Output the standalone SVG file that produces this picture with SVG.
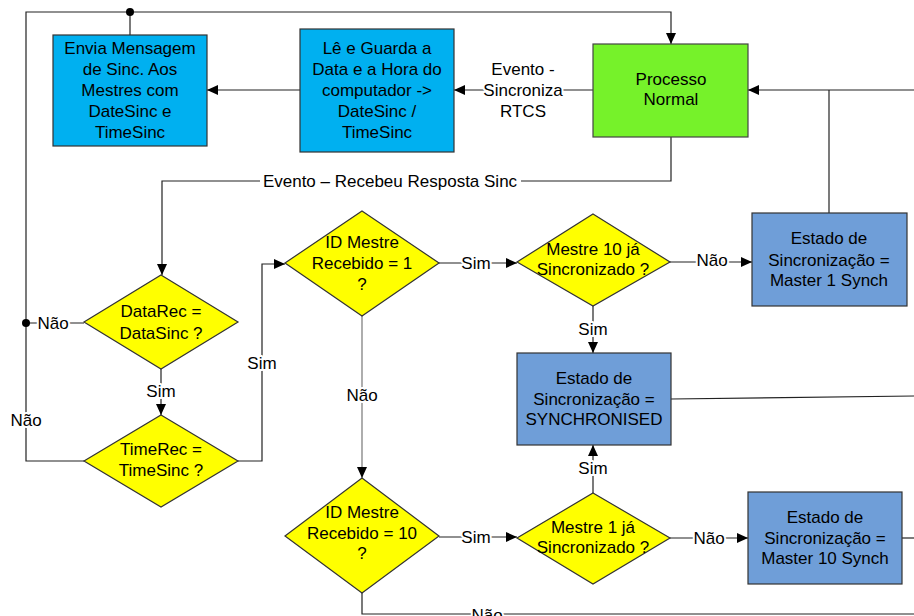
<svg xmlns="http://www.w3.org/2000/svg" width="914" height="616" viewBox="0 0 914 616">
  <defs>
    <style>
      text { font-family: "Liberation Sans", Arial, sans-serif; font-size: 17px; fill: #000; text-anchor: middle; }
      .lbl { stroke: #fff; stroke-width: 4px; paint-order: stroke; stroke-linejoin: round; }
      .line { fill: none; stroke: #222; stroke-width: 1.2; }
      .grey { stroke: #777; }
      .cyan { fill: #00B0F0; stroke: #333; stroke-width: 1.2; }
      .green { fill: #76F22A; stroke: #444; stroke-width: 1.2; }
      .steel { fill: #6F9ED8; stroke: #333; stroke-width: 1.2; }
      .dec { fill: #FFFF00; stroke: #333; stroke-width: 1.2; }
    </style>
    <marker id="arrow" markerUnits="userSpaceOnUse" markerWidth="12" markerHeight="12" refX="11" refY="5" orient="auto">
      <path d="M0,0 L11,5 L0,10 z" fill="#000"/>
    </marker>
  </defs>

  <rect width="914" height="616" fill="#fff"/>

  <!-- connectors -->
  <g id="connectors">
    <path class="line" d="M84,461 H26 V12 H671 V44" marker-end="url(#arrow)"/>
    <path class="line" d="M130,12 V35"/>
    <path class="line" d="M84,323 H26"/>
    <path class="line" d="M593,90 H454" marker-end="url(#arrow)"/>
    <path class="line" d="M300,90 H207" marker-end="url(#arrow)"/>
    <path class="line" d="M914,90 H748" marker-end="url(#arrow)"/>
    <path class="line" d="M829,213 V90"/>
    <path class="line" d="M671,137 V181 H162 V275" marker-end="url(#arrow)"/>
    <path class="line" d="M161,369 V415" marker-end="url(#arrow)"/>
    <path class="line" d="M238,461 H262 V264 H285" marker-end="url(#arrow)"/>
    <path class="line" d="M439,263 H517" marker-end="url(#arrow)"/>
    <path class="line" d="M670,262 H752" marker-end="url(#arrow)"/>
    <path class="line" d="M593,306 V353" marker-end="url(#arrow)"/>
    <path class="line grey" d="M362,316 V478" marker-end="url(#arrow)"/>
    <path class="line" d="M439,537 H517" marker-end="url(#arrow)"/>
    <path class="line" d="M593,493 V445" marker-end="url(#arrow)"/>
    <path class="line" d="M670,538 H748" marker-end="url(#arrow)"/>
    <path class="line" d="M902,538 H914"/>
    <path class="line" d="M671,399 L914,396"/>
    <path class="line" d="M362,593 V614 H914"/>
    <circle cx="130" cy="12" r="4" fill="#000"/>
    <circle cx="26" cy="323" r="4" fill="#000"/>

    <!-- connector labels -->
    <text class="lbl" x="523" y="75">Evento -</text>
    <text class="lbl" x="523" y="96">Sincroniza</text>
    <text class="lbl" x="523" y="117">RTCS</text>
    <rect x="260" y="174" width="261" height="16" fill="#fff"/>
    <text class="lbl" x="390" y="187">Evento – Recebeu Resposta Sinc</text>
    <text class="lbl" x="53" y="329">Não</text>
    <text class="lbl" x="161" y="397">Sim</text>
    <text class="lbl" x="26" y="426">Não</text>
    <text class="lbl" x="262" y="369">Sim</text>
    <text class="lbl" x="362" y="401">Não</text>
    <text class="lbl" x="476" y="269">Sim</text>
    <text class="lbl" x="712" y="266">Não</text>
    <text class="lbl" x="593" y="335">Sim</text>
    <text class="lbl" x="593" y="474">Sim</text>
    <text class="lbl" x="476" y="543">Sim</text>
    <text class="lbl" x="709" y="544">Não</text>
    <text class="lbl" x="487" y="621">Não</text>
  </g>

  <g id="envia">
    <rect class="cyan" x="53" y="35" width="154" height="111"/>
    <text x="130" y="54">Envia Mensagem</text>
    <text x="130" y="75">de Sinc. Aos</text>
    <text x="130" y="96">Mestres com</text>
    <text x="130" y="117">DateSinc e</text>
    <text x="130" y="138">TimeSinc</text>
  </g>

  <g id="le-guarda">
    <rect class="cyan" x="300" y="29" width="154" height="123"/>
    <text x="377" y="54">Lê e Guarda a</text>
    <text x="377" y="75">Data e a Hora do</text>
    <text x="377" y="96">computador -&gt;</text>
    <text x="377" y="117">DateSinc /</text>
    <text x="377" y="138">TimeSinc</text>
  </g>

  <g id="processo-normal">
    <rect class="green" x="593" y="44" width="155" height="93"/>
    <text x="671" y="85">Processo</text>
    <text x="671" y="105">Normal</text>
  </g>

  <g id="datarec">
    <polygon class="dec" points="161,275 238,322 161,369 84,322"/>
    <text x="161" y="317">DataRec =</text>
    <text x="161" y="339">DataSinc ?</text>
  </g>

  <g id="timerec">
    <polygon class="dec" points="161,415 238,461 161,507 84,461"/>
    <text x="161" y="455">TimeRec =</text>
    <text x="161" y="476">TimeSinc ?</text>
  </g>

  <g id="id-mestre-1">
    <polygon class="dec" points="362,211 439,263 362,316 285,263"/>
    <text x="362" y="248">ID Mestre</text>
    <text x="362" y="269">Recebido = 1</text>
    <text x="362" y="290">?</text>
  </g>

  <g id="id-mestre-10">
    <polygon class="dec" points="362,478 439,536 362,593 285,536"/>
    <text x="362" y="518">ID Mestre</text>
    <text x="362" y="539">Recebido = 10</text>
    <text x="362" y="559">?</text>
  </g>

  <g id="mestre-10-sinc">
    <polygon class="dec" points="593,214 670,262 593,306 517,262"/>
    <text x="593" y="255">Mestre 10 já</text>
    <text x="593" y="275">Sincronizado ?</text>
  </g>

  <g id="mestre-1-sinc">
    <polygon class="dec" points="593,493 670,538 593,584 517,538"/>
    <text x="593" y="533">Mestre 1 já</text>
    <text x="593" y="553">Sincronizado ?</text>
  </g>

  <g id="master-1-synch">
    <rect class="steel" x="752" y="213" width="155" height="93"/>
    <text x="829" y="244">Estado de</text>
    <text x="829" y="266">Sincronização =</text>
    <text x="829" y="286">Master 1 Synch</text>
  </g>

  <g id="synchronised">
    <rect class="steel" x="517" y="353" width="154" height="92"/>
    <text x="594" y="384">Estado de</text>
    <text x="594" y="405">Sincronização =</text>
    <text x="594" y="425">SYNCHRONISED</text>
  </g>

  <g id="master-10-synch">
    <rect class="steel" x="748" y="492" width="154" height="92"/>
    <text x="825" y="523">Estado de</text>
    <text x="825" y="544">Sincronização =</text>
    <text x="825" y="564">Master 10 Synch</text>
  </g>
</svg>
